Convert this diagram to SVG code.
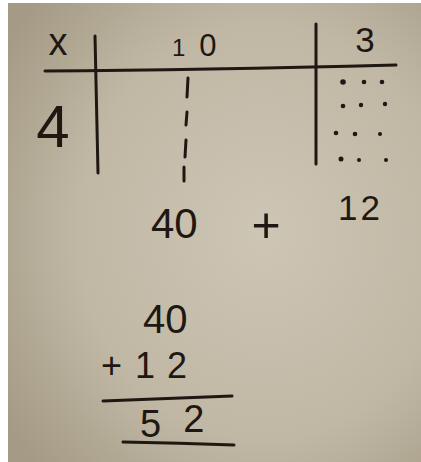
<svg xmlns="http://www.w3.org/2000/svg" width="421" height="462" viewBox="0 0 421 462">
<defs>
<radialGradient id="bg" cx="0.62" cy="0.5" r="0.75">
<stop offset="0" stop-color="#cec6b4"/>
<stop offset="0.6" stop-color="#c0b8a5"/>
<stop offset="1" stop-color="#a49a85"/>
</radialGradient>
<style>
.ink{fill:none;stroke:#1e1712;stroke-width:3;stroke-linecap:round;stroke-linejoin:round}
.t{font-family:"Liberation Sans","DejaVu Sans",sans-serif;fill:#1e1712}
.dot{fill:#1e1712}
</style>
</defs>
<rect x="0" y="0" width="421" height="462" fill="#ffffff"/>
<rect x="8" y="3" width="413" height="459" fill="url(#bg)"/>
<g id="grid">
<path class="ink" d="M95 36 L98 173"/>
<path class="ink" d="M45 71 Q200 70 396 65"/>
<path class="ink" d="M316 24 L316 164"/>
<path class="ink" d="M188 78 L187 97 M187 112 L186 125 M186 140 L185 157 M184 167 L184 181"/>
</g>
<g id="labels">
<text class="t" x="58" y="55" font-size="38" text-anchor="middle">x</text>
<text class="t" x="172" y="56"><tspan font-size="24">1</tspan><tspan font-size="31" dx="14">0</tspan></text>
<text class="t" x="365" y="52" font-size="35" text-anchor="middle">3</text>
<text class="t" x="53" y="147" font-size="60" text-anchor="middle">4</text>
</g>
<g id="dots">
<circle class="dot" cx="343" cy="82" r="2.8"/>
<circle class="dot" cx="364" cy="82" r="2.3"/>
<circle class="dot" cx="382" cy="82" r="2.3"/>
<circle class="dot" cx="343" cy="106" r="2.3"/>
<circle class="dot" cx="361" cy="105" r="2.2"/>
<circle class="dot" cx="385" cy="104" r="2.2"/>
<circle class="dot" cx="336" cy="133" r="2.3"/>
<circle class="dot" cx="355" cy="134" r="2.3"/>
<circle class="dot" cx="380" cy="134" r="2"/>
<circle class="dot" cx="341" cy="159" r="2.5"/>
<circle class="dot" cx="359" cy="160" r="2"/>
<circle class="dot" cx="386" cy="160" r="2"/>
</g>
<g id="sum">
<text class="t" x="151" y="238" font-size="42">40</text>
<text class="t" x="266" y="242" font-size="50" text-anchor="middle">+</text>
<text class="t" x="338" y="220" font-size="35" letter-spacing="3">12</text>
</g>
<g id="column">
<text class="t" x="143" y="333" font-size="40">40</text>
<text class="t" x="101" y="378" font-size="36" dx="0 13 12">+12</text>
<path class="ink" d="M103 401 L232 396"/>
<text class="t" x="140" y="437" font-size="38" dx="0 22" dy="0 -5">52</text>
<path class="ink" d="M123 442 Q180 443 234 445"/>
</g>
</svg>
